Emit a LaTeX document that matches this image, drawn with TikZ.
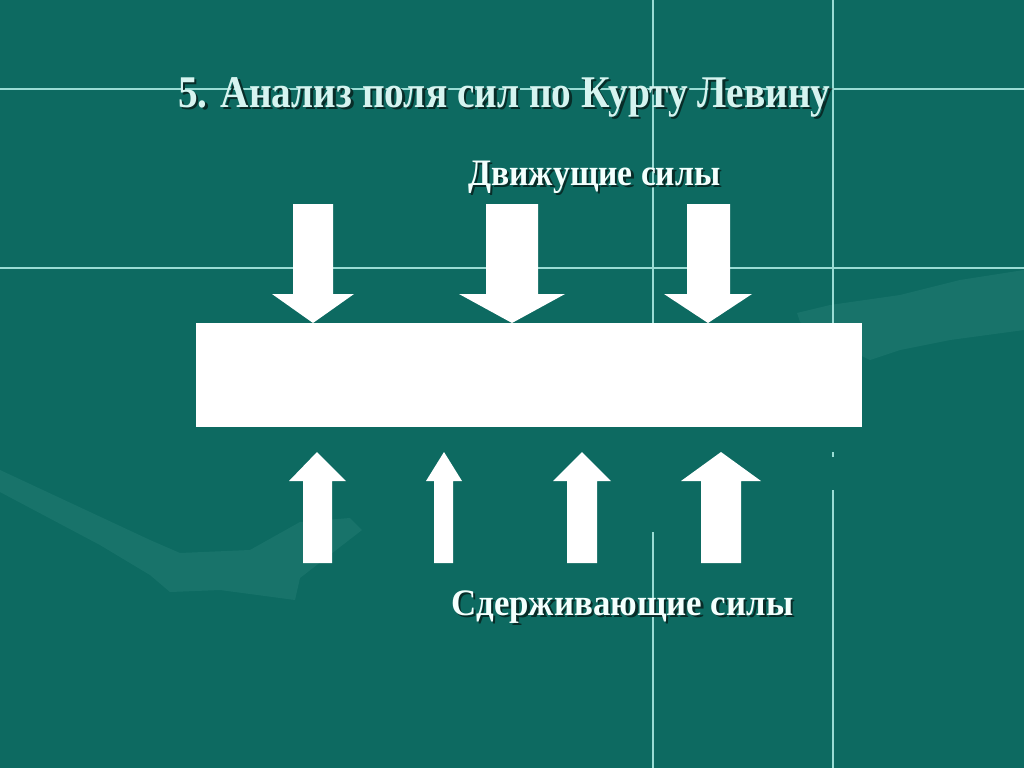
\documentclass[tikz,border=0pt]{standalone}
\usepackage{fontspec}
\usepackage{graphicx}
\setmainfont{Liberation Serif}
\definecolor{bg}{HTML}{0D6A61}
\definecolor{bgl}{HTML}{3A8F86}
\definecolor{gridc}{HTML}{9ADCD4}
\definecolor{txt}{HTML}{D6F4F0}
\definecolor{txtw}{HTML}{F4FFFD}
\definecolor{shad}{HTML}{082C28}
\newcommand{\ttltext}{\scalebox{0.867}[1]{5. Анализ поля сил по Курту Левину}}
\newcommand{\drivtext}{\scalebox{0.9}[1]{Движущие силы}}
\newcommand{\resttext}{\scalebox{0.934}[1]{Сдерживающие силы}}
\begin{document}
\begin{tikzpicture}[x=0.75pt,y=-0.75pt,
  gridline/.style={draw=gridc,line width=0.8pt},
  block/.style={fill=white,draw=none},
  lbl/.style={inner sep=0pt,anchor=base west,font=\bfseries\fontsize{28}{30}\selectfont},
  ttl/.style={inner sep=0pt,anchor=base west,font=\bfseries\fontsize{34}{36}\selectfont}]
\fill[bg] (0,0) rectangle (1024,768);
\useasboundingbox (0,0) rectangle (1024,768);
% faint background shapes
\fill[bgl,opacity=0.25] (0,470) -- (150,540) -- (180,553) -- (250,550) -- (300,522) -- (350,518) -- (362,530) -- (300,578) -- (295,600) -- (220,590) -- (170,592) -- (150,575) -- (100,545) -- (0,492) -- cycle;
\fill[bgl,opacity=0.25] (797,313) -- (830,305) -- (900,295) -- (960,280) -- (1024,270) -- (1024,330) -- (950,340) -- (900,350) -- (870,360) -- (840,345) -- (800,322) -- cycle;
% grid lines
\draw[gridline] (0,89) -- (1024,89);
\draw[gridline] (0,268) -- (1024,268);
\draw[gridline] (653,0) -- (653,323);
\draw[gridline] (653,532) -- (653,768);
\draw[gridline] (833,0) -- (833,323);
\draw[gridline] (833,452) -- (833,457);
\draw[gridline] (833,490) -- (833,768);
% title
\node[ttl,text=shad] (titleshadow) at (180.5,109.5) {\ttltext};
\node[ttl,text=txt] (title) at (178,107) {\ttltext};
% central block
\node[block,minimum width=666*0.75pt,minimum height=104*0.75pt,inner sep=0pt] (field) at (529,375) {};
% driving forces (down)
\fill[white] (293,204) -- (333,204) -- (333,294) -- (354,294) -- (313,323) -- (272,294) -- (293,294) -- cycle;
\fill[white] (486,204) -- (538,204) -- (538,294) -- (565,294) -- (512,323) -- (459,294) -- (486,294) -- cycle;
\fill[white] (687,204) -- (730,204) -- (730,294) -- (752,294) -- (708,323) -- (664,294) -- (687,294) -- cycle;
% restraining forces (up)
\fill[white] (303,563) -- (332,563) -- (332,481) -- (346,481) -- (317,452) -- (289,481) -- (303,481) -- cycle;
\fill[white] (434,563) -- (453,563) -- (453,481) -- (462,481) -- (444,452) -- (426,481) -- (434,481) -- cycle;
\fill[white] (567,563) -- (597,563) -- (597,481) -- (611,481) -- (582,452) -- (553,481) -- (567,481) -- cycle;
\fill[white] (701,563) -- (741,563) -- (741,481) -- (761,481) -- (721,452) -- (681,481) -- (701,481) -- cycle;
% labels
\node[lbl,text=shad] (drivshadow) at (470.5,187.5) {\drivtext};
\node[lbl,text=txtw] (driv) at (468,185) {\drivtext};
\node[lbl,text=shad] (restshadow) at (453.5,617.5) {\resttext};
\node[lbl,text=txtw] (rest) at (451,615) {\resttext};
\end{tikzpicture}
\end{document}
